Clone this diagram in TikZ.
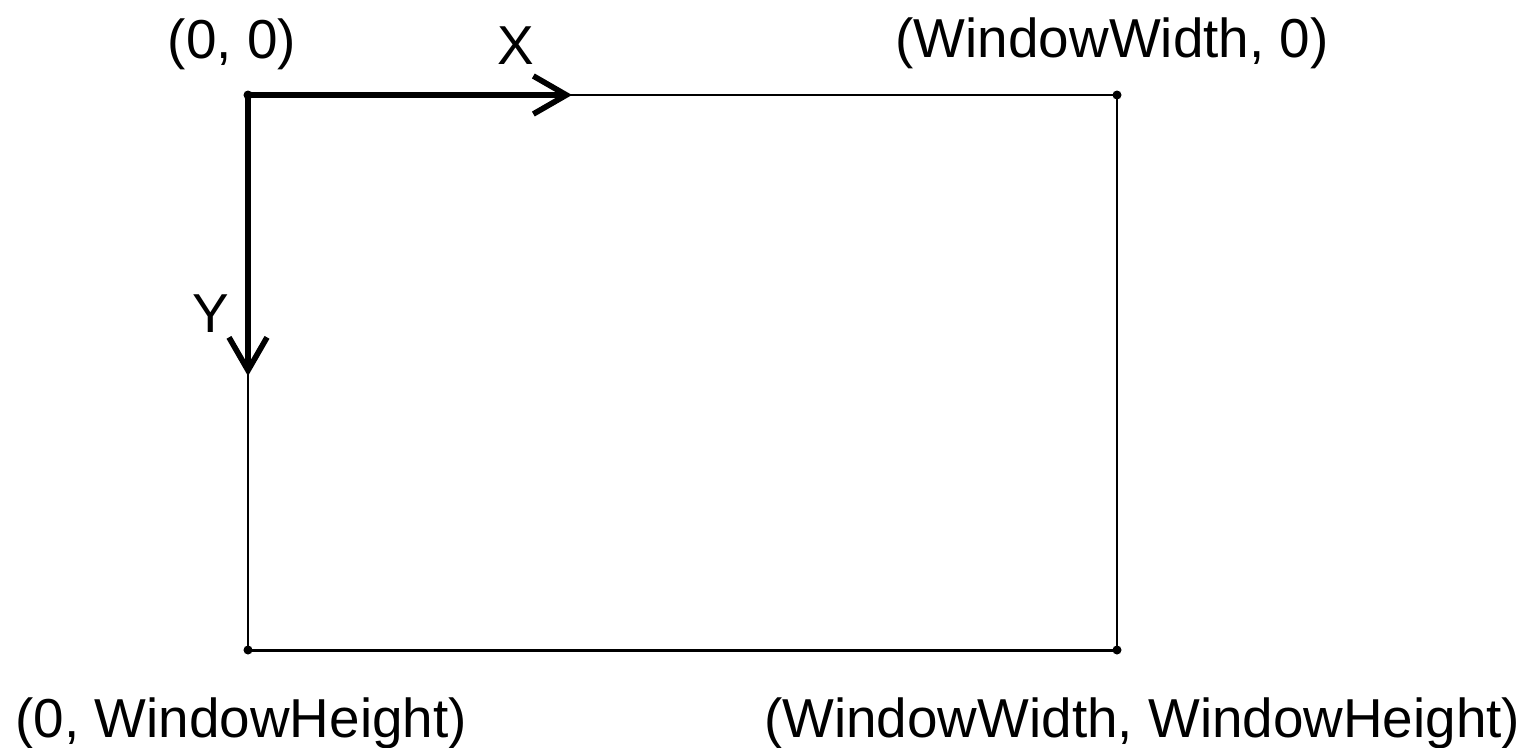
\documentclass[tikz,border=0pt]{standalone}
\usepackage{fontspec}
\setmainfont{Liberation Sans}
\usetikzlibrary{arrows.meta}

\begin{document}
\begin{tikzpicture}[x=0.01cm, y=-0.01cm,
    frame/.style={line width=0.85pt},
    axis/.style={line width=1.6pt, line cap=rect, -{Straight Barb[length=0.33cm,width=0.38cm,line width=1.6pt]}},
    corner/.style={circle, fill, inner sep=0pt, minimum size=0.09cm},
    lbl/.style={font=\fontsize{15.6}{18}\selectfont, anchor=base, inner sep=0pt}]
			\useasboundingbox (0,0) rectangle (1529,748);
			
			\node[corner] (tl) at (248,95) {};
			\node[corner] (tr) at (1117,95) {};
			\node[corner] (br) at (1117,650) {};
			\node[corner] (bl) at (248,650) {};
			\coordinate (xend) at (572,95);
			\coordinate (yend) at (248,376);
			
			\draw[frame] (tl.center) -- (tr.center) -- (br.center) -- (bl.center) -- (tl.center);
			\draw[axis] (tl.center) -- (xend);
			\draw[axis] (tl.center) -- (yend);
			
			\node[lbl] (origin) at (232,58) {(0, 0)};
			\node[lbl] (xlabel) at (516,64) {X};
			\node[lbl] (ylabel) at (211,332) {Y};
			\node[lbl, anchor=base west] (wlabel) at (895,57) {(WindowWidth, 0)};
			\node[lbl, anchor=base west] (hlabel) at (15,737) {(0, WindowHeight)};
			\node[lbl, anchor=base east] (whlabel) at (1521,737) {(WindowWidth, WindowHeight)};
		\end{tikzpicture}
\end{document}
